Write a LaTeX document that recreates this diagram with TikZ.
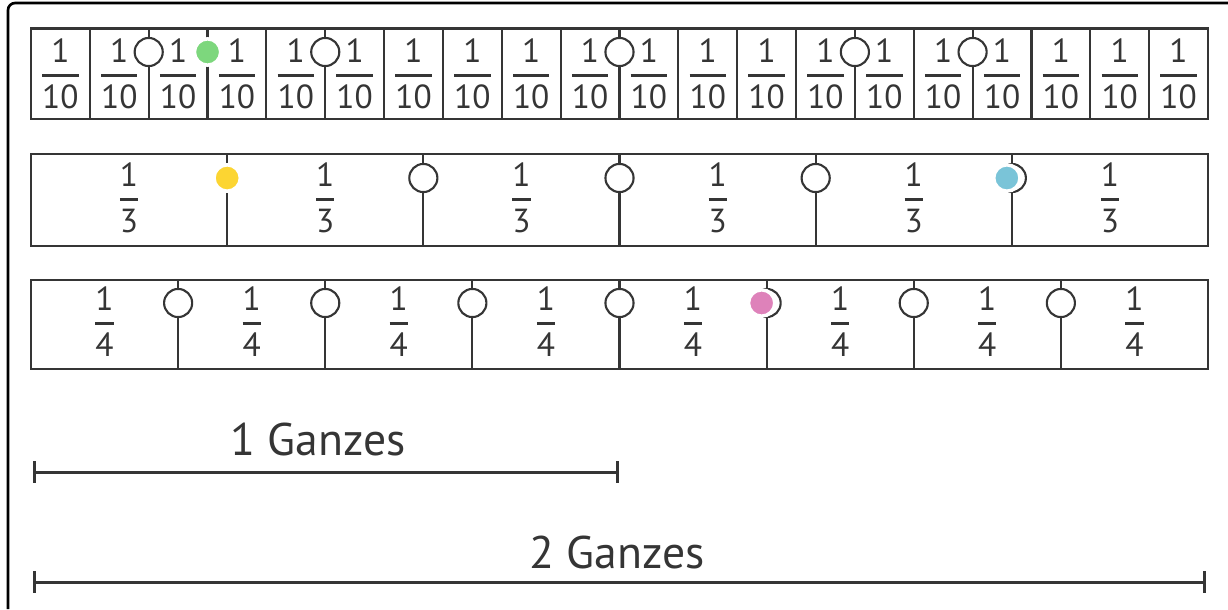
\documentclass[tikz,border=0pt]{standalone}
\usepackage{amsmath}
\usepackage{fontspec}
\setmainfont{PT Sans}
\usepackage{xcolor}
\usetikzlibrary{arrows.meta}
\definecolor{ink}{HTML}{353535}
\definecolor{dotgreen}{RGB}{125,215,125}
\definecolor{dotyellow}{RGB}{252,213,50}
\definecolor{dotblue}{RGB}{122,196,216}
\definecolor{dotpink}{RGB}{222,130,186}
\tikzset{
    % Strip styles
    strip/.style={draw=ink, line width=1.2pt},
    divider/.style={draw=ink, line width=1.2pt},
    frac/.style={font=\fontsize{19}{22}\selectfont, text=ink, inner sep=0pt, anchor=base},
    hole/.style={circle, draw=ink, fill=white, line width=1.2pt, minimum size=16pt, inner sep=0pt},
    dot/.style={circle, draw=white, line width=2pt, minimum size=15pt, inner sep=0pt},
    % Ruler styles
    ruler/.style={draw=ink, line width=1.7pt, {Bar[width=12pt]}-{Bar[width=12pt]}},
    whole/.style={font=\fontsize{26}{30}\selectfont, text=ink, anchor=base},
    frame/.style={draw=black, line width=1.5pt, rounded corners=4pt},
}
\newcommand{\fr}[2]{\ensuremath{\genfrac{}{}{1.5pt}{0}{\text{#1}}{\text{#2}}}}

\begin{document}
\begin{tikzpicture}[x=0.02cm, y=-0.02cm]
    \useasboundingbox (0,0) rectangle (1228,609);
    \draw[frame] (8,609) -- (8,3) -- (1228,3);

    % Tenths
    \draw[strip] (31,28.5) rectangle (1208,119);
    \foreach \k in {1,...,19} {
        \draw[divider] ({31+58.85*\k},28.5) -- ({31+58.85*\k},119);
    }
    \foreach \k in {0,...,19} {
        \node[frac] (t\k) at ({31+58.85*(\k+0.5)},83.4) {\fr{1}{10}};
    }
    \foreach \k in {2,5,10,14,16} {
        \node[hole] (th\k) at ({31+58.85*\k},52) {};
    }
    \node[dot, fill=dotgreen] (tg) at ({31+58.85*3},52) {};

    % Thirds
    \draw[strip] (31,154) rectangle (1208,246);
    \foreach \k in {1,...,5} {
        \draw[divider] ({31+196.17*\k},154) -- ({31+196.17*\k},246);
    }
    \foreach \k in {0,...,5} {
        \node[frac] (d\k) at ({31+196.17*(\k+0.5)},207.4) {\fr{1}{3}};
    }
    \foreach \k in {2,3,4,5} {
        \node[hole] (dh\k) at ({31+196.17*\k},178) {};
    }
    \node[dot, fill=dotyellow] (dy) at ({31+196.17},178) {};
    \node[dot, fill=dotblue] (db) at ({31+196.17*5-5},178) {};

    % Quarters
    \draw[strip] (31,280) rectangle (1208,369);
    \foreach \k in {1,...,7} {
        \draw[divider] ({31+147.125*\k},280) -- ({31+147.125*\k},369);
    }
    \foreach \k in {0,...,7} {
        \node[frac] (q\k) at ({31+147.125*(\k+0.5)},331.4) {\fr{1}{4}};
    }
    \foreach \k in {1,...,7} {
        \node[hole] (qh\k) at ({31+147.125*\k},303) {};
    }
    \node[dot, fill=dotpink] (qp) at ({31+147.125*5-5},303) {};

    % Wholes
    \coordinate (w1a) at (33,472);
    \coordinate (w1b) at (619,472);
    \draw[ruler] (w1a) -- (w1b);
    \node[whole] (w1) at (318,455) {1 Ganzes};

    \coordinate (w2a) at (33,582);
    \coordinate (w2b) at (1206,582);
    \draw[ruler] (w2a) -- (w2b);
    \node[whole] (w2) at (617,568) {2 Ganzes};
\end{tikzpicture}
\end{document}
